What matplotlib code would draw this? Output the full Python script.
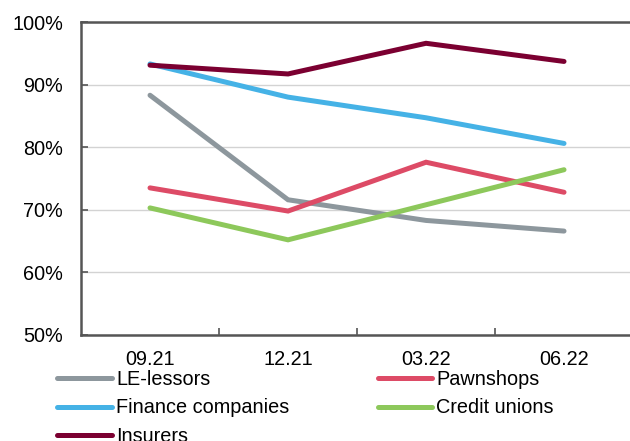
import matplotlib
matplotlib.use("Agg")
import matplotlib.pyplot as plt
from matplotlib.ticker import FixedLocator, PercentFormatter

plt.rcParams['font.family'] = ['Liberation Sans', 'DejaVu Sans']

# quarterly values, %
periods = ["09.21", "12.21", "03.22", "06.22"]
le_lessors = [88.3, 71.6, 68.3, 66.6]
pawnshops = [73.5, 69.8, 77.6, 72.8]
finance_cos = [93.3, 88.0, 84.7, 80.6]
credit_unions = [70.3, 65.2, 70.8, 76.4]
insurers = [93.1, 91.7, 96.6, 93.7]

series = [
    ("LE-lessors", le_lessors, "#8D979D"),
    ("Pawnshops", pawnshops, "#DD4B66"),
    ("Finance companies", finance_cos, "#45B2E6"),
    ("Credit unions", credit_unions, "#8DC85B"),
    ("Insurers", insurers, "#7B0031"),
]

FS = 14.3

fig = plt.figure(figsize=(6.3, 4.41), dpi=100)
ax = fig.add_axes([0.1286, 0.2404, 0.8762, 0.7097])

x = range(len(periods))
lines = {}
for name, vals, col in series:
    ln, = ax.plot(x, vals, color=col, lw=3.6, solid_capstyle='round',
                  solid_joinstyle='miter', label=name)
    lines[name] = ln

ax.set_xlim(-0.5, len(periods) - 0.5)
ax.set_ylim(50, 100)
ax.set_yticks(range(50, 101, 10))
ax.yaxis.set_major_formatter(PercentFormatter(decimals=0))
ax.yaxis.grid(True, color="#D3D3D3", lw=1)
ax.set_axisbelow(True)

ax.set_xticks(list(x))
ax.set_xticklabels(periods)
ax.xaxis.set_minor_locator(FixedLocator([0.5, 1.5, 2.5]))
ax.tick_params(axis='x', which='major', length=0, pad=11, labelsize=FS)
ax.tick_params(axis='x', which='minor', direction='in', length=5, width=1.2, color="#555555")
ax.tick_params(axis='y', direction='in', length=5, width=1.2, color="#555555", pad=13, labelsize=FS)

for sp in ax.spines.values():
    sp.set_color("#555555")
    sp.set_linewidth(1.8)

order = ["LE-lessors", "Finance companies", "Insurers", "Pawnshops", "Credit unions"]
fig.legend([lines[n] for n in order], order, ncol=2, loc='upper left',
           bbox_to_anchor=(0.091, 0.162), frameon=False, fontsize=FS,
           handlelength=2.75, handletextpad=0.2, columnspacing=4.45,
           labelspacing=0.5, borderaxespad=0, borderpad=0)

fig.savefig("out.png", dpi=100)
